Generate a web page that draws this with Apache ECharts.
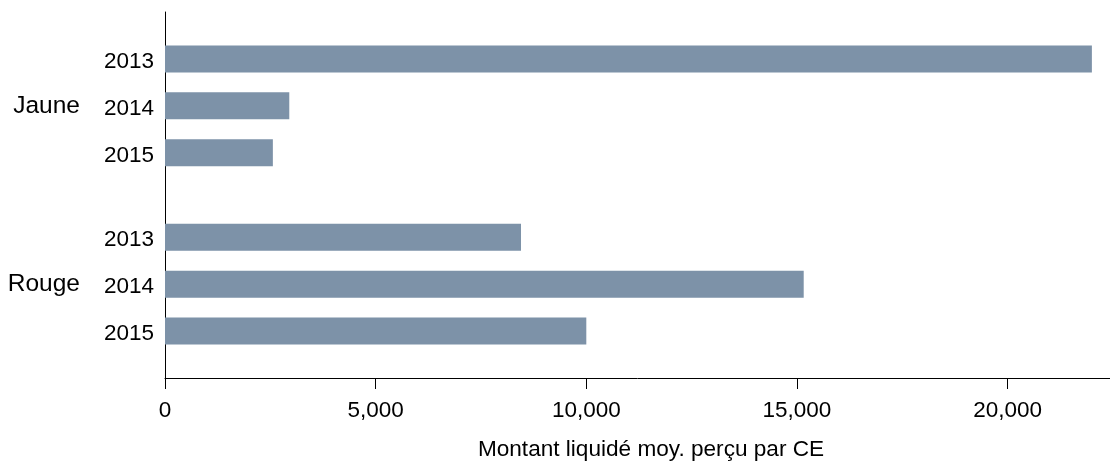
<!DOCTYPE html>
<html>
<head>
<meta charset="utf-8">
<script src="https://cdn.jsdelivr.net/npm/echarts@6/dist/echarts.min.js"></script>
<style>html,body{margin:0;padding:0;background:#fff}#c{width:1110px;height:466px}</style>
</head>
<body>
<div id="c"></div>
<script>
const groups = ['Jaune', 'Rouge'];
const years = ['2013', '2014', '2015'];
const jauneValues = [22000, 2950, 2560];
const rougeValues = [8450, 15160, 10000];
const xTicks = [0, 5000, 10000, 15000, 20000];
const xTitle = 'Montant liquidé moy. perçu par CE';

const groupValues = [jauneValues, rougeValues];
// slot layout: each year step = 5 slots, gap between groups = 9 slots, margins = 5 slots
const STEP = 5, GAP = 9, MARGIN = 5;
const nSlots = MARGIN * 2 + (years.length - 1) * STEP * groups.length + GAP * (groups.length - 1) + 1;
const yearSlots = new Array(nSlots).fill('');
const groupSlots = new Array(nSlots).fill('');
const barData = new Array(nSlots).fill(null);
groups.forEach((g, gi) => {
  const start = MARGIN + gi * ((years.length - 1) * STEP + GAP);
  years.forEach((y, yi) => {
    const idx = start + yi * STEP;
    yearSlots[idx] = y;
    barData[idx] = groupValues[gi][yi];
  });
  groupSlots[start + Math.floor((years.length - 1) / 2) * STEP] = g;
});
const slotIds = yearSlots.map((_, i) => 's' + i);

const FONT = "'Liberation Sans', Arial, sans-serif";
const chart = echarts.init(document.getElementById('c'), null, {renderer: 'canvas'});
chart.setOption({
  animation: false,
  grid: {left: 165, right: 0, top: 12, bottom: 86, containLabel: false},
  xAxis: {
    type: 'value', min: 0, max: 22430,
    axisLine: {show: true, lineStyle: {color: '#000', width: 1}},
    axisTick: {show: true, length: 11, lineStyle: {color: '#000', width: 1}, customValues: xTicks},
    axisLabel: {
      customValues: xTicks, margin: 21, color: '#000', fontSize: 22.5, fontFamily: FONT,
      formatter: v => v.toLocaleString('en-US')
    },
    splitLine: {show: false},
    name: xTitle, nameLocation: 'middle', nameGap: 60,
    nameTextStyle: {color: '#000', fontSize: 22.6, fontFamily: FONT, padding: [0, 0, 0, 27]}
  },
  yAxis: [{
    type: 'category', data: slotIds, inverse: true, boundaryGap: false,
    axisLine: {show: true, lineStyle: {color: '#000', width: 1}},
    axisTick: {show: false},
    splitLine: {show: false},
    axisLabel: {interval: 0, margin: 11, color: '#000', fontSize: 22.5, fontFamily: FONT,
      formatter: (v, i) => yearSlots[i] ? '{y|' + yearSlots[i] + '}' : '',
      rich: {y: {color: '#000', fontSize: 22.5, fontFamily: FONT, padding: [6, 0, 0, 0]}}}
  }, {
    type: 'category', data: slotIds, inverse: true, boundaryGap: false, position: 'left', offset: 74,
    axisLine: {show: false}, axisTick: {show: false}, splitLine: {show: false},
    axisLabel: {interval: 0, margin: 11, color: '#000', fontSize: 24.5, fontFamily: FONT,
      formatter: (v, i) => groupSlots[i]}
  }],
  series: [{
    type: 'bar', yAxisIndex: 0, data: barData, barWidth: 27,
    itemStyle: {color: '#7d92a8'}
  }]
});
</script>
</body>
</html>
